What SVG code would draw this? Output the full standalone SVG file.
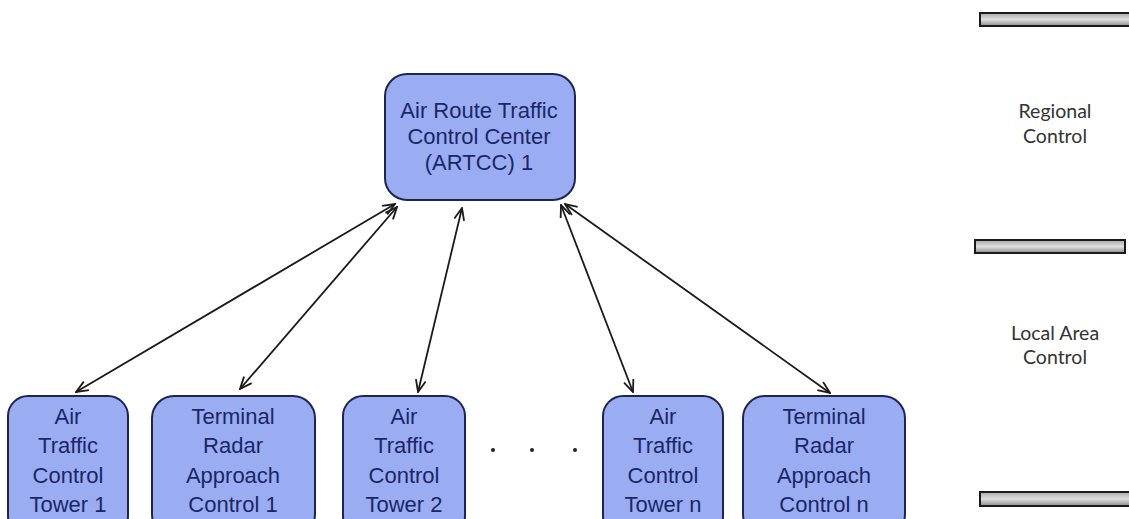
<svg xmlns="http://www.w3.org/2000/svg" width="1129" height="519" viewBox="0 0 1129 519">
<style>
.box{fill:#9aadf3;stroke:#1d2652;stroke-width:2}
.t{font-family:"Liberation Sans",Arial,sans-serif;font-size:22px;fill:#1a2766;text-anchor:middle}
.lab{font-family:"Lato","Liberation Sans",sans-serif;font-size:19.5px;fill:#333;text-anchor:middle}
.bar{fill:url(#g);stroke:#1a1a1a;stroke-width:2}
.c{fill:none;stroke:#1a1a1a;stroke-width:1.8;marker-start:url(#a);marker-end:url(#a)}
</style>
<defs>
<linearGradient id="g" x1="0" y1="0" x2="0" y2="1">
<stop offset="0" stop-color="#a8a8a8"/>
<stop offset="0.5" stop-color="#dedede"/>
<stop offset="1" stop-color="#8c8c8c"/>
</linearGradient>
<marker id="a" viewBox="0 0 14 12" refX="13" refY="6" markerWidth="14" markerHeight="12" markerUnits="userSpaceOnUse" orient="auto-start-reverse">
<path d="M1,1 L13,6 L1,11" fill="none" stroke="#1a1a1a" stroke-width="1.8"/>
</marker>
</defs>
<rect width="1129" height="519" fill="#fff"/>
<g id="connectors">
<line class="c" x1="395" y1="204" x2="76" y2="392"/>
<line class="c" x1="397" y1="207" x2="240" y2="389"/>
<line class="c" x1="462" y1="208" x2="418" y2="392"/>
<line class="c" x1="561" y1="205" x2="633" y2="392"/>
<line class="c" x1="565" y1="204" x2="830" y2="393"/>
</g>
<g id="artcc">
<rect class="box" x="385" y="74" width="190" height="126" rx="22"/>
<text class="t" x="479" y="118">Air Route Traffic</text>
<text class="t" x="479" y="144">Control Center</text>
<text class="t" x="479" y="170">(ARTCC) 1</text>
</g>
<g id="tower1">
<rect class="box" x="8" y="396" width="120" height="140" rx="20"/>
<text class="t" x="68" y="424">Air</text>
<text class="t" x="68" y="453">Traffic</text>
<text class="t" x="68" y="483">Control</text>
<text class="t" x="68" y="512">Tower 1</text>
</g>
<g id="tracon1">
<rect class="box" x="152" y="396" width="163" height="140" rx="22"/>
<text class="t" x="233" y="424">Terminal</text>
<text class="t" x="233" y="453">Radar</text>
<text class="t" x="233" y="483">Approach</text>
<text class="t" x="233" y="512">Control 1</text>
</g>
<g id="tower2">
<rect class="box" x="343" y="396" width="122" height="140" rx="20"/>
<text class="t" x="404" y="424">Air</text>
<text class="t" x="404" y="453">Traffic</text>
<text class="t" x="404" y="483">Control</text>
<text class="t" x="404" y="512">Tower 2</text>
</g>
<g id="dots">
<circle cx="493" cy="450" r="2" fill="#222"/>
<circle cx="532" cy="450" r="2" fill="#222"/>
<circle cx="575" cy="450" r="2" fill="#222"/>
</g>
<g id="towern">
<rect class="box" x="603" y="396" width="120" height="140" rx="20"/>
<text class="t" x="663" y="424">Air</text>
<text class="t" x="663" y="453">Traffic</text>
<text class="t" x="663" y="483">Control</text>
<text class="t" x="663" y="512">Tower n</text>
</g>
<g id="traconn">
<rect class="box" x="743" y="396" width="162" height="140" rx="22"/>
<text class="t" x="824" y="424">Terminal</text>
<text class="t" x="824" y="453">Radar</text>
<text class="t" x="824" y="483">Approach</text>
<text class="t" x="824" y="512">Control n</text>
</g>
<g id="legend">
<rect class="bar" x="980" y="13" width="160" height="13"/>
<rect class="bar" x="975" y="240" width="150" height="13"/>
<rect class="bar" x="980" y="492" width="160" height="14"/>
<text class="lab" x="1055" y="118">Regional</text>
<text class="lab" x="1055" y="143">Control</text>
<text class="lab" x="1055" y="340">Local Area</text>
<text class="lab" x="1055" y="364">Control</text>
</g>
</svg>
